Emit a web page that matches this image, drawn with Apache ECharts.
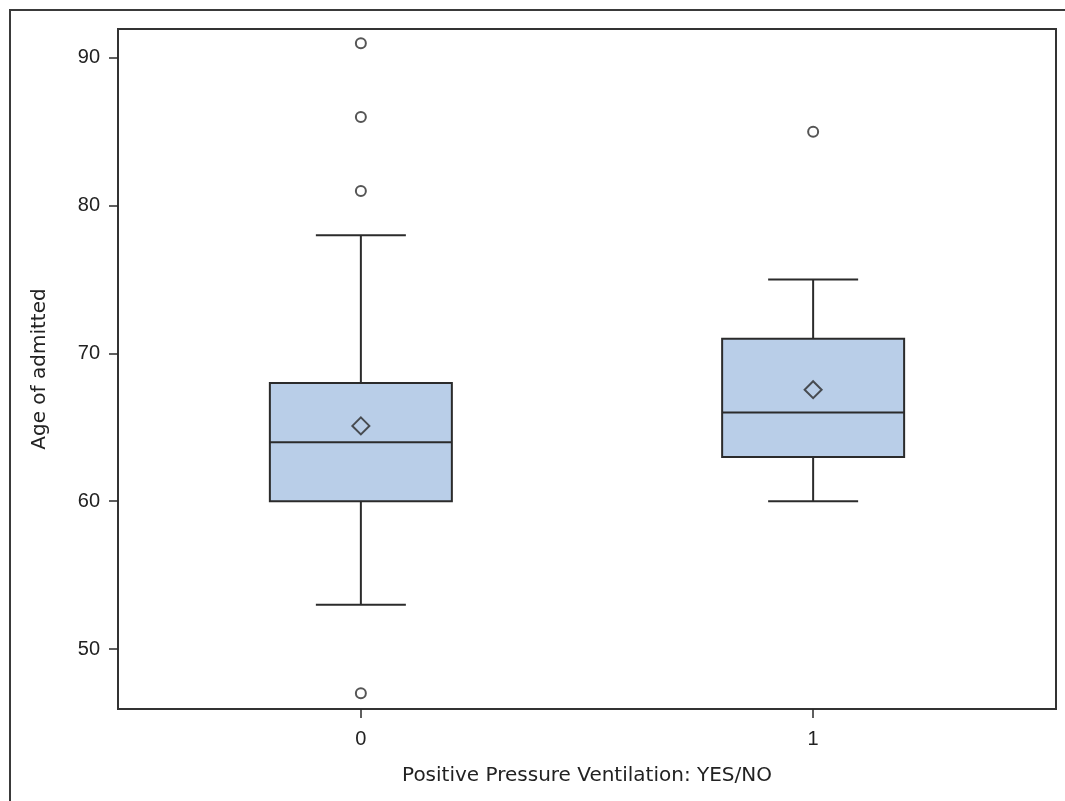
<!DOCTYPE html>
<html>
<head>
<meta charset="utf-8">
<script src="https://cdn.jsdelivr.net/npm/echarts@6/dist/echarts.min.js"></script>
<style>html,body{margin:0;padding:0;background:#fff;}#c{width:1065px;height:801px;}</style>
</head>
<body>
<div id="c"></div>
<script>
// ---- data ----
const categories = ['0', '1'];
const whiskerLow = [53, 60];
const q1 = [60, 63];
const median = [64, 66];
const q3 = [68, 71];
const whiskerHigh = [78, 75];
const means = [65.1, 67.55];
const outliers0 = [91, 86, 81, 47];
const outliers1 = [85];
const yTicks = [50, 60, 70, 80, 90];
const xTicks = [0, 1];
const xTitle = 'Positive Pressure Ventilation: YES/NO';
const yTitle = 'Age of admitted';

const boxData = categories.map((c, i) => [i, whiskerLow[i], q1[i], median[i], q3[i], whiskerHigh[i]]);
const meanData = categories.map((c, i) => [i, means[i]]);
const outlierData = outliers0.map(v => [0, v]).concat(outliers1.map(v => [1, v]));

const BOX_W = 0.4024;   // box width in category units
const CAP_W = 0.199;    // whisker cap width in category units
const lineColor = '#2b2b2b';

const chart = echarts.init(document.getElementById('c'), null, {renderer: 'canvas'});
chart.setOption({
  animation: false,
  backgroundColor: '#fff',
  graphic: [{
    type: 'rect', z: -10, silent: true,
    shape: {x: 10, y: 10, width: 1200, height: 1000},
    style: {fill: 'none', stroke: '#3a3a3a', lineWidth: 2}
  }],
  grid: {left: 118, right: 9, top: 29, bottom: 92, show: true, borderColor: '#333', borderWidth: 2, backgroundColor: 'transparent'},
  xAxis: {
    type: 'value', min: -0.537, max: 1.537,
    axisLine: {show: false, onZero: false},
    splitLine: {show: false},
    axisTick: {show: true, inside: false, length: 9, customValues: xTicks, lineStyle: {color: lineColor, width: 1.5}},
    axisLabel: {customValues: xTicks, formatter: v => categories[Math.round(v)], margin: 20,
      color: '#222', fontFamily: 'Liberation Sans, Arial, sans-serif', fontSize: 20},
    name: xTitle, nameLocation: 'middle', nameGap: 57,
    nameTextStyle: {color: '#222', fontFamily: 'DejaVu Sans, sans-serif', fontSize: 20}
  },
  yAxis: {
    type: 'value', min: 45.94, max: 91.96,
    axisLine: {show: false, onZero: false},
    splitLine: {show: false},
    axisTick: {show: true, inside: false, length: 9, customValues: yTicks, lineStyle: {color: lineColor, width: 1.5}},
    axisLabel: {customValues: yTicks, margin: 18,
      color: '#222', fontFamily: 'Liberation Sans, Arial, sans-serif', fontSize: 20},
    name: yTitle, nameLocation: 'middle', nameGap: 68, nameRotate: 90,
    nameTextStyle: {color: '#222', fontFamily: 'DejaVu Sans, sans-serif', fontSize: 20}
  },
  series: [
    {
      type: 'custom',
      data: boxData,
      encode: {x: 0, y: [1, 2, 3, 4, 5]},
      z: 2,
      renderItem: function (params, api) {
        const x = api.value(0);
        const lo = api.coord([x, api.value(1)]);
        const b1 = api.coord([x, api.value(2)]);
        const md = api.coord([x, api.value(3)]);
        const b3 = api.coord([x, api.value(4)]);
        const hi = api.coord([x, api.value(5)]);
        const bw = api.size([BOX_W, 0])[0];
        const cw = api.size([CAP_W, 0])[0];
        const cx = lo[0];
        const ls = {stroke: lineColor, lineWidth: 2, fill: 'none'};
        return {
          type: 'group',
          children: [
            {type: 'line', shape: {x1: cx, y1: b1[1], x2: cx, y2: lo[1]}, style: ls},
            {type: 'line', shape: {x1: cx, y1: b3[1], x2: cx, y2: hi[1]}, style: ls},
            {type: 'line', shape: {x1: cx - cw / 2, y1: lo[1], x2: cx + cw / 2, y2: lo[1]}, style: ls},
            {type: 'line', shape: {x1: cx - cw / 2, y1: hi[1], x2: cx + cw / 2, y2: hi[1]}, style: ls},
            {type: 'rect', shape: {x: cx - bw / 2, y: b3[1], width: bw, height: b1[1] - b3[1]},
              style: {fill: '#b9cee8', stroke: lineColor, lineWidth: 2}},
            {type: 'line', shape: {x1: cx - bw / 2, y1: md[1], x2: cx + bw / 2, y2: md[1]}, style: ls}
          ]
        };
      }
    },
    {
      type: 'scatter', data: meanData, z: 5,
      symbol: 'diamond', symbolSize: [17, 17],
      itemStyle: {color: 'transparent', borderColor: lineColor, borderWidth: 2}
    },
    {
      type: 'scatter', data: outlierData, z: 5,
      symbol: 'circle', symbolSize: 10,
      itemStyle: {color: '#fff', borderColor: lineColor, borderWidth: 2}
    }
  ]
});
</script>
</body>
</html>
